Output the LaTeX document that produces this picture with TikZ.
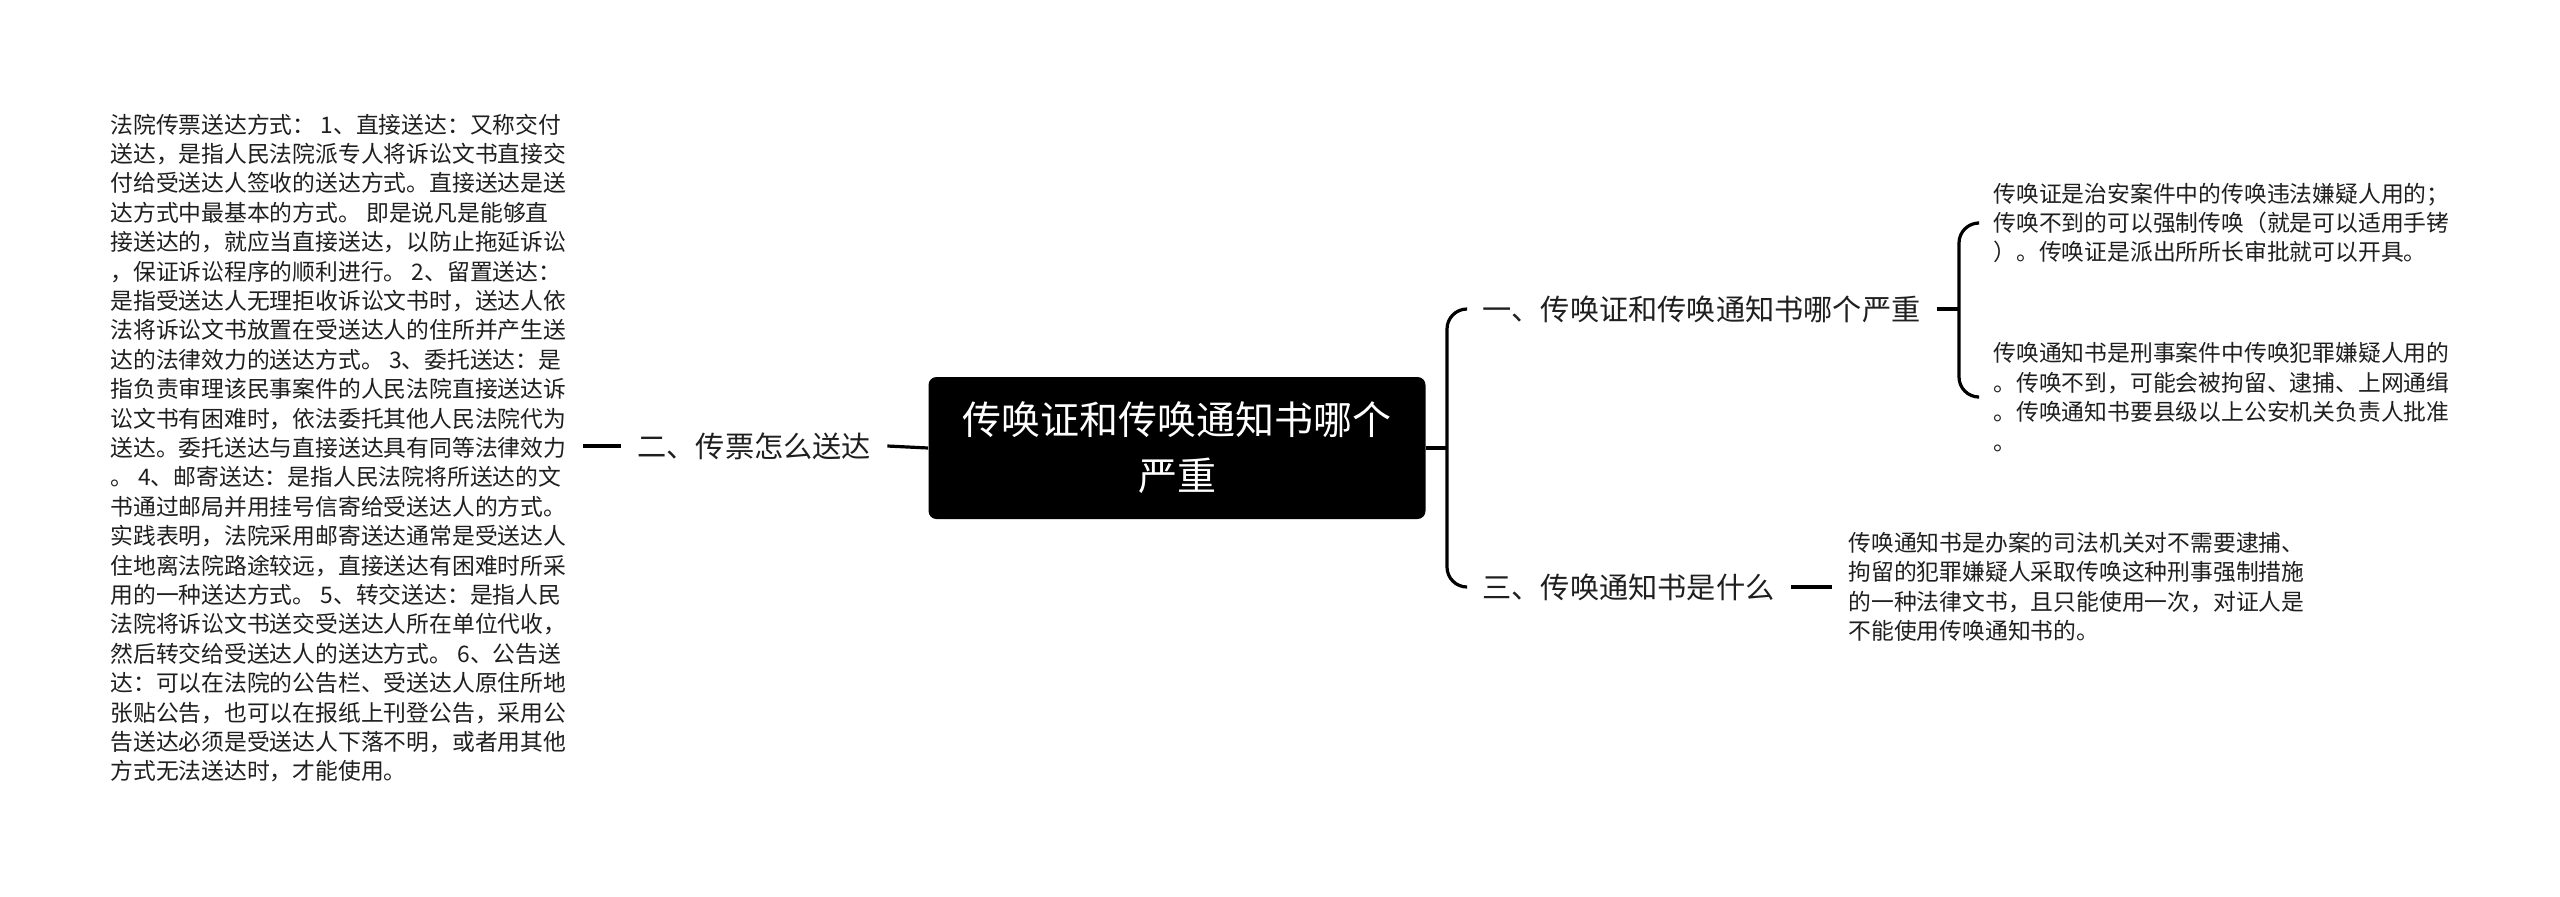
\documentclass[tikz,border=0pt]{standalone}
\usepackage{fontspec}
\setmainfont{Noto Sans CJK SC}
\usetikzlibrary{positioning}
\begin{document}
\begin{tikzpicture}[x=0.5pt,y=-0.5pt,
  conn/.style={line width=1.6pt,draw=black},
  body/.style={anchor=west,align=left,inner xsep=8pt,inner ysep=0pt,text=black!88,
    font=\fontsize{11.4pt}{14.7pt}\selectfont},
  lbl/.style={anchor=west,inner xsep=8pt,inner ysep=0pt,text=black!88,
    font=\fontsize{14.6pt}{18pt}\selectfont},
  rootbox/.style={fill=black,text=white,rounded corners=4pt,align=center,
    minimum width=248.5pt,minimum height=71pt,inner sep=0pt,
    font=\fontsize{19.5pt}{28pt}\selectfont}]
\useasboundingbox (0,0) rectangle (2560,896);
\fill[white] (0,0) rectangle (2560,896);

% root
\node[rootbox] (root) at (1177,448) {传唤证和传唤通知书哪个\\严重};

% left branch
\node[lbl] (n2) at (621,446) {二、传票怎么送达};
\node[body] (t2) at (94,448) {法院传票送达方式： 1、直接送达：又称交付\\
送达，是指人民法院派专人将诉讼文书直接交\\
付给受送达人签收的送达方式。直接送达是送\\
达方式中最基本的方式。 即是说凡是能够直\\
接送达的，就应当直接送达，以防止拖延诉讼\\
，保证诉讼程序的顺利进行。 2、留置送达：\\
是指受送达人无理拒收诉讼文书时，送达人依\\
法将诉讼文书放置在受送达人的住所并产生送\\
达的法律效力的送达方式。 3、委托送达：是\\
指负责审理该民事案件的人民法院直接送达诉\\
讼文书有困难时，依法委托其他人民法院代为\\
送达。委托送达与直接送达具有同等法律效力\\
。 4、邮寄送达：是指人民法院将所送达的文\\
书通过邮局并用挂号信寄给受送达人的方式。\\
实践表明，法院采用邮寄送达通常是受送达人\\
住地离法院路途较远，直接送达有困难时所采\\
用的一种送达方式。 5、转交送达：是指人民\\
法院将诉讼文书送交受送达人所在单位代收，\\
然后转交给受送达人的送达方式。 6、公告送\\
达：可以在法院的公告栏、受送达人原住所地\\
张贴公告，也可以在报纸上刊登公告，采用公\\
告送达必须是受送达人下落不明，或者用其他\\
方式无法送达时，才能使用。};

\draw[conn] (root.west) -- (n2.east);
\draw[conn] (n2.west) -- (t2.east |- n2.west);

% right branches
\node[lbl] (n1) at (1466,309) {一、传唤证和传唤通知书哪个严重};
\node[lbl] (n3) at (1466,587) {三、传唤通知书是什么};
\coordinate (jm) at (1447,448);
\draw[conn] (root.east) -- (jm);
\draw[conn,rounded corners=10pt] (n1.west) -| (jm) |- (n3.west);

% children of n1
\node[body] (c1a) at (1977,223) {传唤证是治安案件中的传唤违法嫌疑人用的；\\
传唤不到的可以强制传唤（就是可以适用手铐\\
）。传唤证是派出所所长审批就可以开具。};
\node[body] (c1b) at (1977,397) {传唤通知书是刑事案件中传唤犯罪嫌疑人用的\\
。传唤不到，可能会被拘留、逮捕、上网通缉\\
。传唤通知书要县级以上公安机关负责人批准\\
。};
\coordinate (j1) at (1959,309);
\draw[conn] (n1.east) -- (j1);
\draw[conn,rounded corners=10pt] (c1a.west) -| (j1) |- (c1b.west);

% child of n3
\node[body] (c3) at (1832,587) {传唤通知书是办案的司法机关对不需要逮捕、\\
拘留的犯罪嫌疑人采取传唤这种刑事强制措施\\
的一种法律文书，且只能使用一次，对证人是\\
不能使用传唤通知书的。};
\draw[conn] (n3.east) -- (c3.west);
\end{tikzpicture}
\end{document}
